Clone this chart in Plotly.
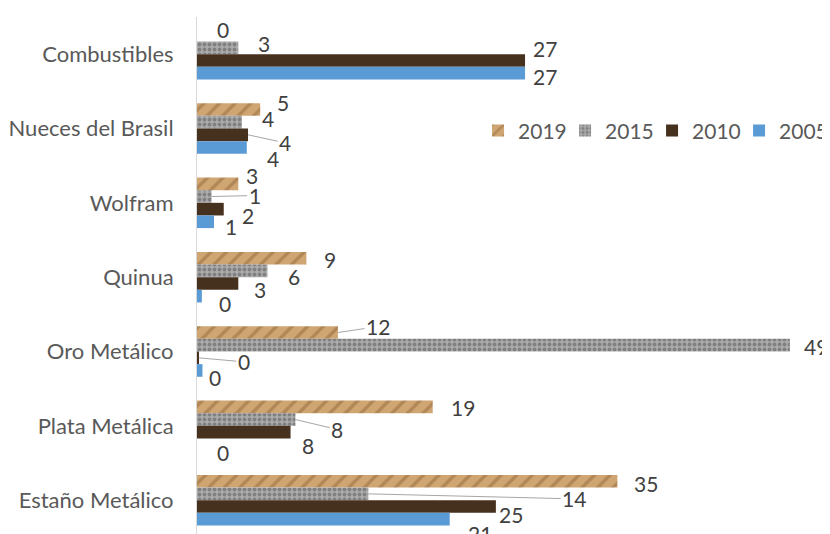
import plotly.graph_objects as go

categories = ["Combustibles", "Nueces del Brasil", "Wolfram", "Quinua",
              "Oro Metálico", "Plata Metálica", "Estaño Metálico"]
series_names = ["2019", "2015", "2010", "2005"]
v2019 = [0.0, 5.2, 3.4, 9.0, 11.6, 19.4, 34.6]
v2015 = [3.4, 3.7, 1.2, 5.8, 48.8, 8.1, 14.1]
v2010 = [27.0, 4.2, 2.2, 3.4, 0.15, 7.7, 24.6]
v2005 = [27.0, 4.1, 1.4, 0.4, 0.45, 0.0, 20.8]

values = [v2019, v2015, v2010, v2005]

# --- styling (not data) ---
colors = ["#CFA572", "#ABABAB", "#46311F", "#5B9BD5"]
patterns = [dict(shape="/", fgcolor="#9C7244", size=11, solidity=0.3, fgopacity=0.6),
            dict(shape=".", fgcolor="#6E6E6E", size=5, solidity=0.45, fgopacity=0.7),
            dict(shape=""), dict(shape="")]
# label placement: (gap px right of bar end, vertical offset px downward, leader line?)
label_style = [
    # 2019
    [(20, -6, False), (17, -7, False), (8, -8, False), (18, 1, False),
     (28, -6, True), (18, 1, False), (17, 2, False)],
    # 2015
    [(20, -4, False), (20, -4, False), (31, -1, True), (21, 6, False),
     (14, 1, False), (30, 10, True), (194, 5, True)],
    # 2010
    [(8, -12, False), (25, 8, True), (18, 6, False), (16, 6, False),
     (33, 4, True), (11, 13, False), (3, 8, False)],
    # 2005
    [(8, 3, False), (20, 11, False), (11, 5, False), (17, 7, False),
     (7, 7, False), (20, 8, False), (18, 14, False)],
]

bargap = 0.32
FONT = "Lato, Carlito, Calibri, sans-serif"

fig = go.Figure()
for name, vals, col, pat in zip(series_names, values, colors, patterns):
    fig.add_trace(go.Bar(
        y=categories, x=vals, name=name, orientation="h",
        marker=dict(color=col, pattern=pat, line=dict(width=0)),
        hovertemplate="%{y}: %{x:.0f}<extra>" + name + "</extra>",
    ))

n_series = len(series_names)
bar_w = (1 - bargap) / n_series
annotations = []
for j, vals in enumerate(values):
    for i, v in enumerate(vals):
        gap, dy, leader = label_style[j][i]
        ypos = i + (j - (n_series - 1) / 2) * bar_w
        txt = f"{v:.0f}"
        if leader:
            annotations.append(dict(
                x=v, y=ypos, xref="x", yref="y", text=txt,
                showarrow=True, arrowhead=0, arrowwidth=1, arrowcolor="#A6A6A6",
                ax=gap + 12, ay=dy, standoff=0,
                font=dict(family=FONT, size=21, color="#404040"),
            ))
        else:
            annotations.append(dict(
                x=v, y=ypos, xref="x", yref="y", text=txt,
                showarrow=False, xanchor="left", yanchor="middle",
                xshift=gap - 2, yshift=-dy,
                font=dict(family=FONT, size=21, color="#404040"),
            ))

fig.update_layout(
    width=822, height=526,
    margin=dict(l=189, r=0, t=9, b=0),
    paper_bgcolor="white", plot_bgcolor="white",
    barmode="group", bargap=bargap, bargroupgap=0,
    font=dict(family=FONT, size=21, color="#595959"),
    showlegend=True,
    legend=dict(orientation="h", x=0.444, y=0.78, xanchor="left", yanchor="middle",
                font=dict(family=FONT, size=21, color="#595959"), traceorder="normal",
                itemwidth=30, entrywidth=42, entrywidthmode="pixels",
                bgcolor="rgba(0,0,0,0)"),
    xaxis=dict(range=[0, 52.1], showgrid=False, showticklabels=False, zeroline=False,
               showline=False, ticks="", fixedrange=True),
    yaxis=dict(range=[6.455, -0.5], showgrid=False, showline=True, linecolor="#D9D9D9",
               linewidth=1, ticks="", ticklabelstandoff=18, automargin=False,
               tickfont=dict(family=FONT, size=22, color="#595959")),
    annotations=annotations,
)

fig.write_html("out.html")
